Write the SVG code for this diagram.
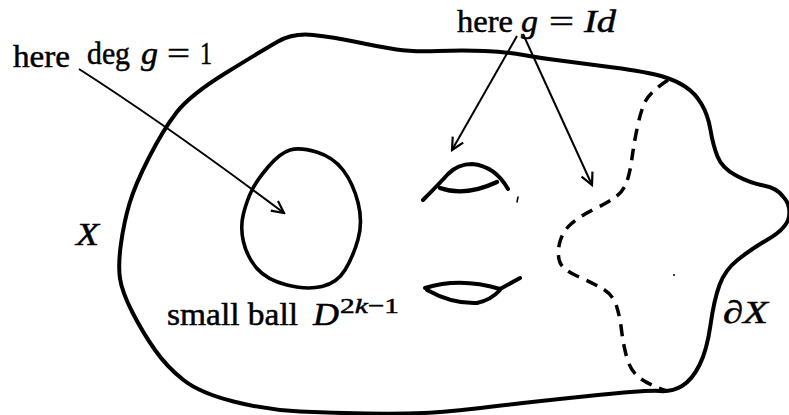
<svg xmlns="http://www.w3.org/2000/svg" width="789" height="415" viewBox="0 0 789 415">
<defs>
<style>
.thick{fill:none;stroke:#000;stroke-width:4;stroke-linecap:round;stroke-linejoin:round}
.dash{fill:none;stroke:#000;stroke-width:3.5;stroke-dasharray:12 8;stroke-linecap:butt}
.arr{fill:none;stroke:#000;stroke-width:2;marker-end:url(#ah)}
.t{font-family:"Liberation Serif","Times New Roman",serif;font-size:32px;fill:#000;stroke:#000;stroke-width:0.5}
.i{font-style:italic}
.sup{font-size:22px}
</style>
<marker id="ah" viewBox="-14 -8 16 16" refX="0" refY="0" markerWidth="16" markerHeight="16" markerUnits="userSpaceOnUse" orient="auto">
<path d="M -12 -6 L 0 0 L -12 6" fill="none" stroke="#000" stroke-width="2.2"/>
</marker>
</defs>
<rect width="789" height="415" fill="#fff"/>
<g id="space-X">
<path class="thick" d="M 278 41.5 Q 293 33 313 35 Q 333 37 356.5 42 Q 380 47 396.5 49.5 Q 413 52 438 51 Q 463 50 485 51 Q 507 52 523.5 55 Q 540 58 560 60.5 Q 580 63 613.5 67.5 Q 647 72 661 76 Q 675 80 685 86.5 Q 695 93 701.5 104 Q 708 115 710.5 130 Q 713 145 717.5 156.5 Q 722 168 736 175.5 Q 750 183 763.5 185.5 Q 777 188 783 196.5 Q 791 205 789 216.5 Q 787 228 768.5 239 Q 750 250 737.5 260 Q 725 270 719.5 285 Q 714 300 710.5 325 Q 707 350 699.5 365 Q 692 380 682 386 Q 672 392 659.5 391 Q 647 390 588.5 396 Q 530 402 488.5 407 Q 447 412 423.5 413 Q 400 414 366.5 413.5 Q 333 413 300 411.5 Q 267 410 233.5 401.5 Q 200 393 183.5 380 Q 167 367 155 350 Q 143 333 132.5 312.5 Q 122 292 120 278.5 Q 118 265 121 243.5 Q 124 222 129.5 203.5 Q 135 185 149 157.5 Q 163 130 176.5 112.5 Q 190 95 226.5 72.5 Q 263 50 278 41.5 Z"/>
<text class="t i" x="76" y="245" textLength="23" lengthAdjust="spacingAndGlyphs">X</text>
</g>
<g id="boundary-dashed">
<path class="dash" d="M 668 80 Q 650 92 645.5 101 Q 641 110 637.5 126.5 Q 634 143 632 158 Q 630 173 626.5 182.5 Q 623 192 615 197.5 Q 607 203 593.5 209.5 Q 580 216 571 224 Q 562 232 559.5 243.5 Q 557 255 560 262.5 Q 563 270 578 276.5 Q 593 283 603 289 Q 613 295 616.5 306 Q 620 317 621.5 330 Q 623 343 626.5 356.5 Q 630 370 638.5 377 Q 647 384 667 391"/>
<text class="t" x="723" y="323" textLength="45" lengthAdjust="spacingAndGlyphs">∂<tspan class="i">X</tspan></text>
</g>
<g id="small-ball">
<path class="thick" style="stroke-width:3.6" d="M 316.5 152 Q 333 157 343 170 Q 353 183 358 202.5 Q 363 222 358 239.5 Q 353 257 345 270 Q 337 283 322 286.5 Q 307 290 287 285 Q 267 280 257 268.5 Q 247 257 243.5 242 Q 240 227 243.5 213.5 Q 247 200 252 190 Q 257 180 268.5 166.5 Q 280 153 290 150 Q 300 147 316.5 152 Z"/>
<text class="t" x="167" y="325" textLength="131" lengthAdjust="spacingAndGlyphs">small ball</text>
<text class="t i" x="313" y="325" textLength="26" lengthAdjust="spacingAndGlyphs">D</text>
<text class="t i sup" x="340" y="313" textLength="59" lengthAdjust="spacingAndGlyphs"><tspan style="font-style:normal">2</tspan>k<tspan style="font-style:normal">−1</tspan></text>
</g>
<g id="hole-upper">
<path class="thick" d="M 423 200 Q 440 183 448 174 Q 458 164 472 164 Q 495 166 508 189"/>
<path class="thick" style="stroke-width:4.3" d="M 440 188 Q 465 197 497 182"/>
<path class="thick" style="stroke-width:1.5" d="M 518 197 L 517 202"/>
</g>
<g id="hole-lower">
<path class="thick" d="M 425 288 Q 460 277 500 289 L 520 278"/>
<path class="thick" d="M 427 290 Q 452 304 477 303 Q 491 300 500 290"/>
</g>
<g id="labels">
<text class="t" x="13" y="67" textLength="57" lengthAdjust="spacingAndGlyphs">here</text>
<text class="t" x="87" y="64" textLength="43" lengthAdjust="spacingAndGlyphs">deg</text>
<text class="t i" x="141" y="64" textLength="17" lengthAdjust="spacingAndGlyphs">g</text>
<text class="t" x="167" y="64" textLength="23" lengthAdjust="spacingAndGlyphs">=</text>
<text class="t" x="200" y="64" textLength="12" lengthAdjust="spacingAndGlyphs">1</text>
<text class="t" x="457" y="32" textLength="56" lengthAdjust="spacingAndGlyphs">here</text>
<text class="t i" x="521" y="32" textLength="17" lengthAdjust="spacingAndGlyphs">g</text>
<text class="t" x="549" y="32" textLength="25" lengthAdjust="spacingAndGlyphs">=</text>
<text class="t i" x="584" y="32" textLength="32" lengthAdjust="spacingAndGlyphs">Id</text>
</g>
<g id="connectors">
<path class="arr" d="M 79 69 Q 165 124 284 213"/>
<path class="arr" d="M 517 36 L 452 150"/>
<path class="arr" d="M 523 34 L 592 185"/>
</g>
<circle cx="674" cy="275" r="1" fill="#000"/>
</svg>
